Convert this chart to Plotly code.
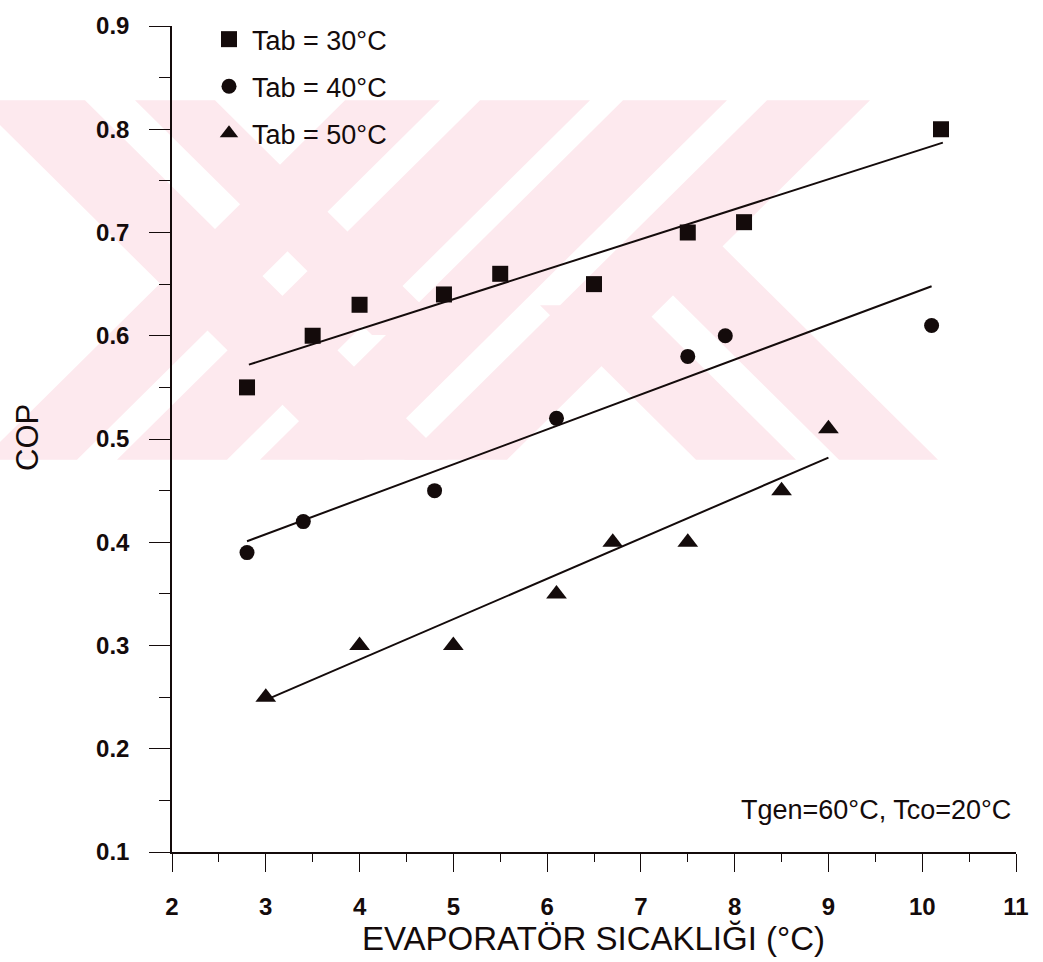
import plotly.graph_objects as go

# Evaporator temperature (°C) and COP for three absorber temperatures
x_tab30 = [2.8, 3.5, 4.0, 4.9, 5.5, 6.5, 7.5, 8.1, 10.2]
cop_tab30 = [0.55, 0.60, 0.63, 0.64, 0.66, 0.65, 0.70, 0.71, 0.80]

x_tab40 = [2.8, 3.4, 4.8, 6.1, 7.5, 7.9, 10.1]
cop_tab40 = [0.39, 0.42, 0.45, 0.52, 0.58, 0.60, 0.61]

x_tab50 = [3.0, 4.0, 5.0, 6.1, 6.7, 7.5, 8.5, 9.0]
cop_tab50 = [0.25, 0.30, 0.30, 0.35, 0.40, 0.40, 0.45, 0.51]

# Straight trend lines (end points) for each series
trend_x30 = [2.82, 10.22]
trend_y30 = [0.572, 0.787]
trend_x40 = [2.80, 10.10]
trend_y40 = [0.401, 0.648]
trend_x50 = [3.02, 9.00]
trend_y50 = [0.248, 0.482]

legend_names = ["Tab = 30°C", "Tab = 40°C", "Tab = 50°C"]
x_ticks = [2, 3, 4, 5, 6, 7, 8, 9, 10, 11]
y_ticks = [0.1, 0.2, 0.3, 0.4, 0.5, 0.6, 0.7, 0.8, 0.9]

W, H = 1043, 962
ML, MR, MT, MB = 172, 27, 18, 110
PW, PH = W - ML - MR, H - MT - MB

INK = "#140b0b"
PINK = "#fde9ee"
FONT = "Liberation Sans, Arial, sans-serif"


def px(xp):
    return (xp - ML) / PW


def py(yp):
    return (H - MB - yp) / PH


fig = go.Figure()

series = [
    (x_tab30, cop_tab30, "square", 16, trend_x30, trend_y30),
    (x_tab40, cop_tab40, "circle", 15, trend_x40, trend_y40),
    (x_tab50, cop_tab50, "triangle-up", 18, trend_x50, trend_y50),
]
for name, (xs, ys, sym, size, tx, ty) in zip(legend_names, series):
    fig.add_trace(go.Scatter(
        x=tx, y=ty, mode="lines", line=dict(color=INK, width=2),
        showlegend=False, hoverinfo="skip"))
    fig.add_trace(go.Scatter(
        x=xs, y=ys, mode="markers", name=name, legendgroup=name,
        marker=dict(symbol=sym, size=size, color=INK, line=dict(width=0))))

# ---- faint striped emblem behind the plot (pixel geometry, 45° bands) ----
BAND_TOP, BAND_BOT, BAND_RIGHT = 93, 456, 945


def band(kind, x0, x1, y_start=BAND_TOP, y_end=BAND_BOT):
    """Diagonal stripe; x0/x1 are its edges where it meets y = BAND_TOP."""
    s = 1 if kind == "\\" else -1
    pts = []
    for y in (y_start, y_end):
        pts.append((x0 + s * (y - BAND_TOP), y))
    for y in (y_end, y_start):
        pts.append((x1 + s * (y - BAND_TOP), y))
    path = "M " + " L ".join(f"{px(a):.5f},{py(b):.5f}" for a, b in pts) + " Z"
    fig.add_shape(type="path", path=path, xref="paper", yref="paper",
                  fillcolor=PINK, line=dict(width=0), layer="below")


# left cross
band("\\", -25, 85)
band("\\", 135, 215, BAND_TOP, 330)
band("/", 345, 440)
band("/", 480, 590)
# right cross
band("/", 623, 727)
band("/", 767, 870)
band("\\", 333, 433, 300, BAND_BOT)
band("\\", 476, 575, 240, BAND_BOT)

# white margins keep the emblem inside its strip
for x0, x1 in ((-200, 0), (BAND_RIGHT, 1200)):
    fig.add_shape(type="rect", xref="paper", yref="paper",
                  x0=px(x0), x1=px(x1), y0=py(BAND_BOT), y1=py(BAND_TOP),
                  fillcolor="white", line=dict(width=0), layer="below")

fig.add_annotation(text="Tgen=60°C, Tco=20°C", xref="paper", yref="paper",
                   x=px(1013), y=py(810), xanchor="right", yanchor="middle",
                   showarrow=False, font=dict(family=FONT, size=27, color=INK))
fig.add_annotation(text="EVAPORATÖR SICAKLIĞI (°C)", xref="paper", yref="paper",
                   x=px(593), y=py(939), xanchor="center", yanchor="middle",
                   showarrow=False, font=dict(family=FONT, size=33, color=INK))
fig.add_annotation(text="COP", xref="paper", yref="paper", textangle=-90,
                   x=px(27), y=py(434), xanchor="center", yanchor="middle",
                   showarrow=False, font=dict(family=FONT, size=31, color=INK))

axis_common = dict(
    showline=True, linecolor=INK, linewidth=1.5, mirror=False,
    showgrid=False, zeroline=False, ticks="outside", tickcolor=INK,
    tickwidth=1.3,
    tickfont=dict(family=FONT, size=24, color=INK, weight="bold"),
)

fig.update_xaxes(range=[2, 11], tickvals=x_ticks, ticktext=[str(v) for v in x_ticks],
                 ticklen=18, ticklabelstandoff=14,
                 minor=dict(ticks="outside", ticklen=8, tickwidth=1.2,
                            tickcolor=INK, tick0=2.5, dtick=1),
                 **axis_common)
fig.update_yaxes(range=[0.1, 0.9], tickvals=y_ticks, ticktext=[f"{v:.1f}" for v in y_ticks],
                 ticklen=21, ticklabelstandoff=15,
                 minor=dict(ticks="outside", ticklen=11, tickwidth=1.2,
                            tickcolor=INK, tick0=0.15, dtick=0.1),
                 **axis_common)

fig.update_layout(
    width=W, height=H,
    margin=dict(l=ML, r=MR, t=MT, b=MB, pad=0),
    paper_bgcolor="white", plot_bgcolor="rgba(0,0,0,0)",
    font=dict(family=FONT, color=INK),
    showlegend=True,
    legend=dict(x=px(206), y=py(7), xanchor="left", yanchor="top",
                bgcolor="rgba(0,0,0,0)", borderwidth=0,
                font=dict(family=FONT, size=27, color=INK),
                tracegroupgap=9, itemsizing="trace", itemwidth=36),
)

fig.write_html("out.html")
